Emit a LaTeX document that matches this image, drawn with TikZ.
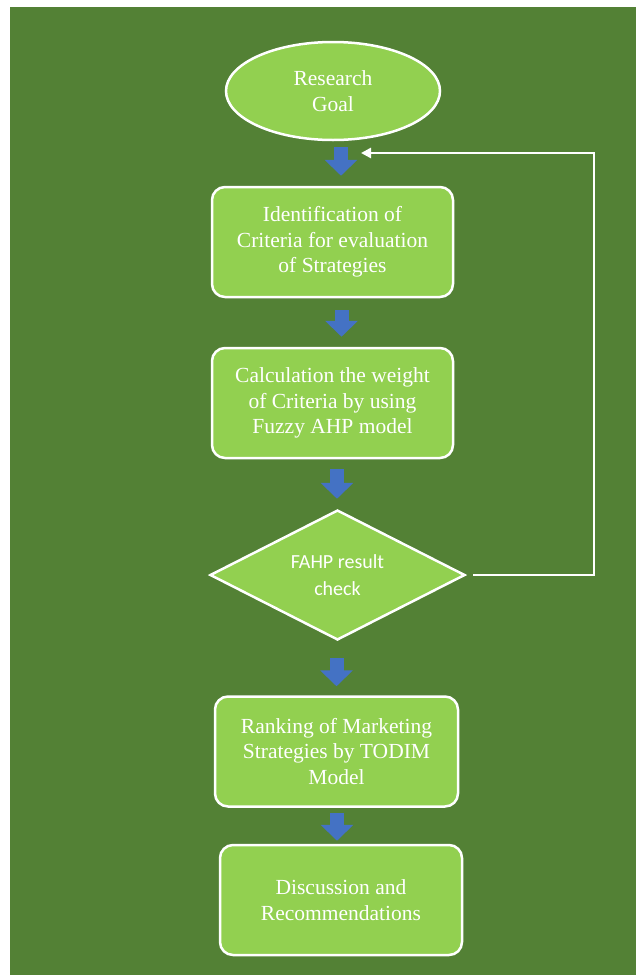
\documentclass[tikz,border=0pt]{standalone}
\usepackage{fontspec}
\setmainfont{Liberation Serif}
\newfontfamily\calfont{Carlito}
\usetikzlibrary{shapes.geometric,arrows.meta,calc}
\definecolor{bggreen}{HTML}{538135}
\definecolor{boxgreen}{HTML}{92D050}
\definecolor{arrowblue}{HTML}{4472C4}
\begin{document}
\begin{tikzpicture}[x=1pt,y=-1pt,
  serifbox/.style={draw=white, line width=2.5pt, fill=boxgreen, text=white,
    inner sep=0pt, align=center, font=\fontsize{21.5}{25.5}\selectfont},
  stepbox/.style={serifbox, rounded corners=13pt, rectangle,
    minimum width=241pt, minimum height=110pt},
  goalshape/.style={serifbox, ellipse, minimum width=214pt, minimum height=98pt},
  decision/.style={draw=white, line width=2.5pt, fill=boxgreen, text=white,
    diamond, aspect=1.96, inner sep=0pt, minimum width=255pt, minimum height=130pt,
    align=center, font=\calfont\fontsize{20}{27}\selectfont},
  blockarrow/.style={draw=arrowblue, line width=14pt,
    -{Triangle[width=32pt,length=16pt]}},
  feedback/.style={draw=white, line width=2.5pt,
    -{Triangle[width=10pt,length=10pt]}}
]
\useasboundingbox (0,0) rectangle (636,975);
\fill[bggreen] (10,7) rectangle (636,975);

\node[goalshape] (goal) at (333,91) {Research\\Goal};
\node[stepbox] (box1) at (332.5,242) {Identification of\\Criteria for evaluation\\of Strategies};
\node[stepbox] (box2) at (332.5,403) {Calculation the weight\\of Criteria by using\\Fuzzy AHP model};
\node[decision] (dia) at (337.5,575) {FAHP result\\check};
\node[stepbox, minimum width=243pt, minimum height=110pt] (box4) at (336.5,751.5) {Ranking of Marketing\\Strategies by TODIM\\Model};
\node[stepbox, minimum width=242pt] (box5) at (341,900) {Discussion and\\Recommendations};

\draw[blockarrow] ($(goal.south)+(8,6)$) -- ($(goal.south|-box1.north)+(8,-10)$);
\draw[blockarrow] ($(box1.south)+(9,12)$) -- ($(box1.south|-box2.north)+(9,-10)$);
\draw[blockarrow] ($(box2.south)+(4.5,10)$) -- ($(box2.south|-dia.north)+(4.5,-10)$);
\draw[blockarrow] ($(dia.south)+(-1,17)$) -- ($(dia.south|-box4.north)+(-1,-9)$);
\draw[blockarrow] ($(box4.south)+(0.5,5)$) -- ($(box4.south|-box5.north)+(0.5,-3)$);

\coordinate (fbturn) at (594,153);
\coordinate (fbend) at (361,153);
\draw[feedback] ($(dia.east)+(7,0)$) -- (dia.east -| fbturn) -- (fbturn) -- (fbend);
\end{tikzpicture}
\end{document}
